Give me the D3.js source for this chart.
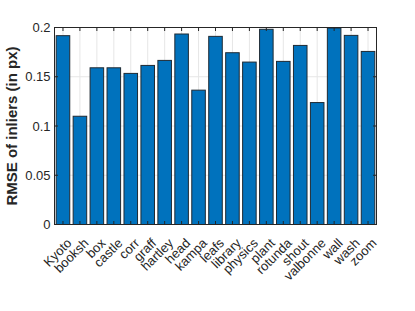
<!DOCTYPE html>
<html><head><meta charset="utf-8">
<script src="https://cdn.jsdelivr.net/npm/d3@7"></script>
<style>body{margin:0;background:#fff}svg{display:block}</style>
</head><body>
<script>
const categories = ["Kyoto","booksh","box","castle","corr","graff","hartley","head","kampa","leafs","library","physics","plant","rotunda","shout","valbonne","wall","wash","zoom"];
const values = [0.1917,0.1099,0.1591,0.1591,0.1534,0.1615,0.1666,0.1934,0.1364,0.1910,0.1744,0.1649,0.1982,0.1656,0.1818,0.1238,0.1995,0.1920,0.1757];
const yTicks = [0,0.05,0.1,0.15,0.2];
const yTickLabels = ["0","0.05","0.1","0.15","0.2"];
const yLabel = "RMSE of inliers (in px)";

const W=415,H=311;
const L=54.5,R=376.5,T=27.5,B=224.5;
const svg=d3.select("body").append("svg").attr("width",W).attr("height",H);
const x=d3.scaleLinear().domain([0.5,categories.length+0.5]).range([L,R]);
const y=d3.scaleLinear().domain([0,0.2]).range([B,T]);
const ax="#262626", font="Liberation Sans, Arial, Helvetica, sans-serif";

// grid
const g=svg.append("g");
g.selectAll(".gx").data(categories).join("line")
 .attr("x1",(d,i)=>x(i+1)).attr("x2",(d,i)=>x(i+1)).attr("y1",T).attr("y2",B)
 .attr("stroke","#e6e6e6").attr("stroke-width",1);
g.selectAll(".gy").data(yTicks).join("line")
 .attr("x1",L).attr("x2",R).attr("y1",d=>y(d)).attr("y2",d=>y(d))
 .attr("stroke","#e6e6e6").attr("stroke-width",1);

// bars
const bw=(x(2)-x(1))*0.8;
svg.append("g").selectAll("rect").data(values).join("rect")
 .attr("x",(d,i)=>x(i+1)-bw/2).attr("width",bw)
 .attr("y",d=>y(d)).attr("height",d=>B-y(d))
 .attr("fill","#0072BD").attr("stroke","#1f2a33").attr("stroke-width",1);

// axes lines + ticks
const tl=3.5;
const a=svg.append("g").attr("stroke",ax).attr("stroke-width",1).attr("fill","none");
a.append("rect").attr("x",L).attr("y",T).attr("width",R-L).attr("height",B-T);
categories.forEach((c,i)=>{
  const xx=x(i+1);
  a.append("line").attr("x1",xx).attr("x2",xx).attr("y1",B).attr("y2",B-tl);
  a.append("line").attr("x1",xx).attr("x2",xx).attr("y1",T).attr("y2",T+tl);
});
yTicks.forEach(t=>{
  a.append("line").attr("x1",L).attr("x2",L+tl).attr("y1",y(t)).attr("y2",y(t));
  a.append("line").attr("x1",R).attr("x2",R-tl).attr("y1",y(t)).attr("y2",y(t));
});

// y tick labels
svg.append("g").selectAll("text").data(yTicks).join("text")
 .attr("x",L-4).attr("y",d=>y(d)).attr("dy","0.35em")
 .attr("text-anchor","end").attr("font-family",font).attr("font-size",13).attr("fill",ax)
 .text((d,i)=>yTickLabels[i]);

// x tick labels rotated
svg.append("g").selectAll("text").data(categories).join("text")
 .attr("transform",(d,i)=>`translate(${x(i+1)+3},${B+13}) rotate(-45)`)
 .attr("text-anchor","end").attr("dy","0.7em")
 .attr("font-family",font).attr("font-size",13).attr("fill",ax)
 .text(d=>d);

// y label
svg.append("text").attr("transform",`translate(17,${(T+B)/2}) rotate(-90)`)
 .attr("text-anchor","middle").attr("font-family",font).attr("font-size",15)
 .attr("font-weight","bold").attr("fill",ax).text(yLabel);
</script>
</body></html>
